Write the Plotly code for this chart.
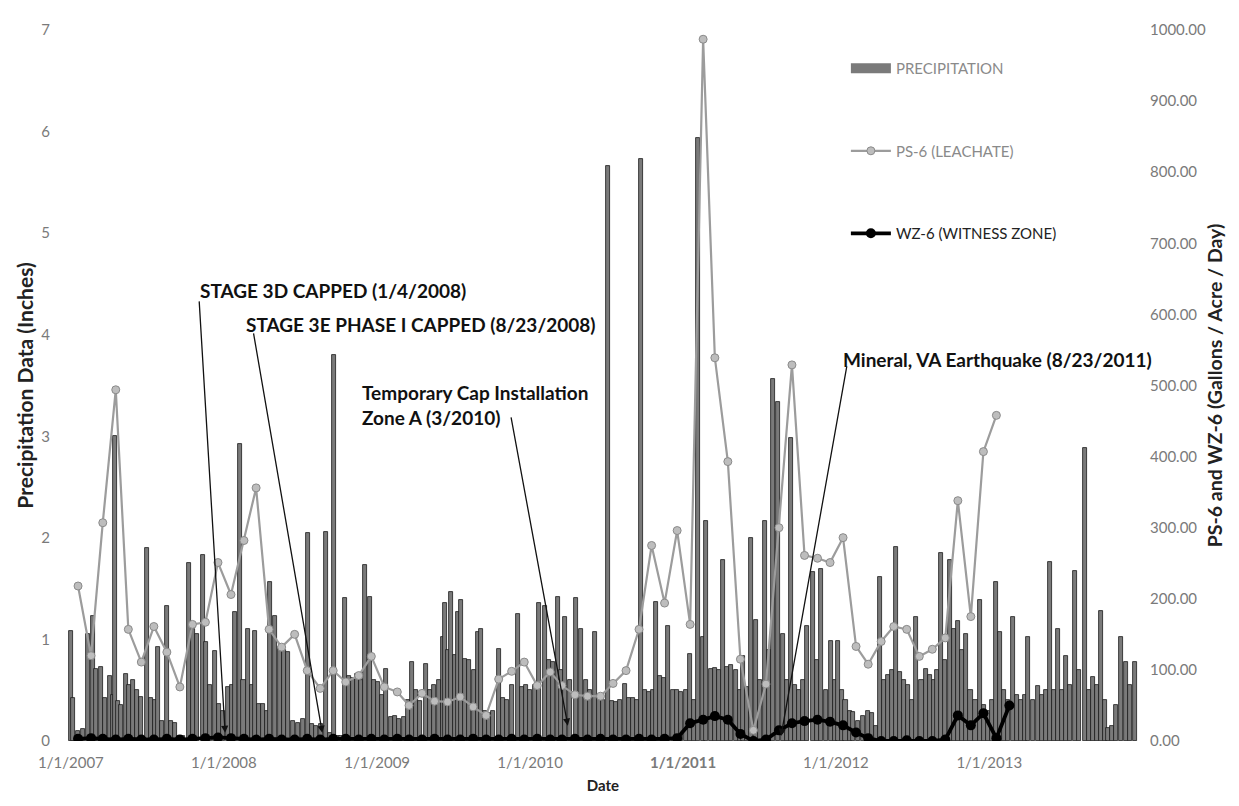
import plotly.graph_objects as go

# ---------------- data ----------------
precip_dates = [
    # 2007
    "2007-01-01","2007-01-05","2007-01-17","2007-01-29","2007-02-10","2007-02-22","2007-03-02","2007-03-14",
    "2007-03-23","2007-04-04","2007-04-11","2007-04-16","2007-04-23","2007-04-30","2007-05-12","2007-05-19",
    "2007-05-29","2007-06-07","2007-06-17","2007-07-01","2007-07-11","2007-07-20","2007-07-27","2007-08-06",
    "2007-08-18","2007-08-28","2007-09-06","2007-09-16","2007-09-25","2007-10-09","2007-10-19","2007-10-28",
    "2007-11-12","2007-11-19","2007-11-29","2007-12-10","2007-12-20","2007-12-29",
    # 2008
    "2008-01-10","2008-01-20","2008-01-27","2008-02-08","2008-02-17","2008-02-27","2008-03-09","2008-03-16",
    "2008-03-25","2008-04-04","2008-04-13","2008-04-20","2008-05-02","2008-05-14","2008-05-24","2008-06-02",
    "2008-06-14","2008-06-26","2008-07-08","2008-07-20","2008-07-30","2008-08-08","2008-08-20","2008-09-01",
    "2008-09-11","2008-09-20","2008-09-30","2008-10-07","2008-10-16","2008-10-26","2008-11-05","2008-11-14",
    "2008-11-24","2008-12-03","2008-12-15","2008-12-25",
    # 2009
    "2009-01-03","2009-01-12","2009-01-22","2009-02-03","2009-02-12","2009-02-22","2009-03-06","2009-03-16",
    "2009-03-25","2009-04-04","2009-04-13","2009-04-27","2009-05-07","2009-05-17","2009-05-29","2009-06-07",
    "2009-06-12","2009-06-19","2009-06-26","2009-07-06","2009-07-13","2009-07-20","2009-07-30","2009-08-08",
    "2009-08-20","2009-08-30","2009-09-06","2009-09-16","2009-09-25","2009-10-05","2009-10-19","2009-10-28",
    "2009-11-07","2009-11-19","2009-12-03","2009-12-13","2009-12-22",
    # 2010
    "2010-01-01","2010-01-12","2010-01-22","2010-02-05","2010-02-15","2010-02-24","2010-03-09","2010-03-16",
    "2010-03-25","2010-04-06","2010-04-20","2010-05-02","2010-05-14","2010-05-24","2010-06-05","2010-06-14",
    "2010-06-24","2010-07-06","2010-07-15","2010-07-25","2010-08-03","2010-08-15","2010-08-25","2010-09-03",
    "2010-09-13","2010-09-22","2010-10-02","2010-10-12","2010-10-21","2010-10-28","2010-11-07","2010-11-17",
    "2010-11-26","2010-12-08","2010-12-17","2010-12-27",
    # 2011
    "2011-01-08","2011-01-17","2011-01-27","2011-02-05","2011-02-17","2011-02-24","2011-03-09","2011-03-18",
    "2011-03-28","2011-04-06","2011-04-16","2011-04-25","2011-05-07","2011-05-17","2011-05-24","2011-06-02",
    "2011-06-12","2011-06-24","2011-07-03","2011-07-15","2011-07-25","2011-08-03","2011-08-15","2011-08-27",
    "2011-09-06","2011-09-16","2011-09-25","2011-10-05","2011-10-14","2011-10-23","2011-11-07","2011-11-17",
    "2011-11-26","2011-12-08","2011-12-20","2011-12-29",
    # 2012
    "2012-01-05","2012-01-15","2012-01-24","2012-02-03","2012-02-10","2012-02-22","2012-03-06","2012-03-18",
    "2012-03-28","2012-04-06","2012-04-16","2012-04-25","2012-05-05","2012-05-14","2012-05-24","2012-06-02",
    "2012-06-12","2012-06-21","2012-07-01","2012-07-11","2012-07-23","2012-08-03","2012-08-13","2012-08-22",
    "2012-08-30","2012-09-08","2012-09-18","2012-09-30","2012-10-09","2012-10-19","2012-10-28","2012-11-07",
    "2012-11-17","2012-11-29","2012-12-10","2012-12-20","2012-12-29",
    # 2013
    "2013-01-08","2013-01-17","2013-01-27","2013-02-05","2013-02-15","2013-02-27","2013-03-09","2013-03-18",
    "2013-03-28","2013-04-04","2013-04-16","2013-04-28","2013-05-07","2013-05-17","2013-05-26","2013-06-05",
    "2013-06-14","2013-06-24","2013-07-03","2013-07-13","2013-07-25","2013-08-03","2013-08-18","2013-08-27",
    "2013-09-06","2013-09-16","2013-09-25","2013-10-05","2013-10-12","2013-10-21","2013-10-31","2013-11-12",
    "2013-11-24","2013-12-03","2013-12-15",
]
precip_inches = [
    # 2007
    1.08,0.42,0.10,0.12,1.05,1.23,0.71,0.73,0.42,0.64,0.45,3.00,0.39,0.35,0.66,0.55,
    0.60,0.50,0.43,1.90,0.42,0.40,0.93,0.20,1.33,0.20,0.18,0.05,0.05,1.75,1.10,1.05,
    1.83,0.97,0.55,0.89,0.36,0.30,
    # 2008
    0.53,0.55,1.27,2.92,0.60,1.10,0.55,1.08,0.36,0.36,0.30,1.57,1.23,0.93,0.90,0.88,
    0.20,0.18,0.22,2.05,0.17,0.15,0.17,2.06,0.08,3.80,0.05,0.05,1.41,0.64,0.62,0.66,
    0.60,1.73,1.42,0.60,
    # 2009
    0.58,0.45,0.71,0.24,0.25,0.22,0.24,0.40,0.78,0.50,0.39,0.76,0.50,0.55,0.60,1.02,
    1.36,0.90,1.47,0.85,1.27,1.39,0.81,0.80,0.70,1.07,1.10,0.30,0.28,0.30,0.91,0.42,
    0.40,0.55,1.25,0.53,0.55,
    # 2010
    0.50,0.55,1.36,1.33,0.80,0.78,1.42,0.70,1.22,0.60,1.41,1.10,0.60,0.50,1.07,0.42,
    0.40,5.66,0.39,0.38,0.40,0.56,0.42,0.42,0.40,5.73,0.50,0.48,0.50,1.37,0.64,0.62,
    1.13,0.50,0.50,0.48,
    # 2011
    0.50,0.86,0.40,5.94,1.02,2.17,0.71,0.72,0.70,1.78,0.73,0.75,0.70,0.50,0.84,0.53,
    2.00,1.19,0.60,2.17,0.90,3.56,3.34,1.05,0.60,2.98,0.55,0.50,0.60,1.13,1.66,0.80,
    1.69,0.50,0.98,0.60,
    # 2012
    0.98,0.50,0.40,0.30,0.29,0.20,0.25,0.30,0.28,0.15,1.61,0.60,0.65,0.70,1.91,0.68,
    0.60,0.55,0.40,1.22,0.60,0.71,0.65,0.60,0.70,1.85,0.80,1.78,1.10,1.18,0.90,1.05,
    0.50,0.40,1.39,0.35,0.30,
    # 2013
    0.40,1.57,1.07,0.50,0.40,1.22,0.45,0.40,0.45,1.02,0.40,0.54,0.45,0.50,1.76,0.50,
    1.10,0.50,0.84,0.55,1.67,0.70,2.88,0.50,0.63,0.55,1.28,0.40,0.13,0.15,0.35,1.02,
    0.78,0.55,0.78,
]

# monthly sampling dates for PS-6 and WZ-6
sample_dates = [
    "2007-01-18","2007-02-18","2007-03-18","2007-04-18","2007-05-18","2007-06-18","2007-07-18","2007-08-18","2007-09-18","2007-10-18","2007-11-18","2007-12-18",
    "2008-01-18","2008-02-18","2008-03-18","2008-04-18","2008-05-18","2008-06-18","2008-07-18","2008-08-18","2008-09-18","2008-10-18","2008-11-18","2008-12-18",
    "2009-01-18","2009-02-18","2009-03-18","2009-04-18","2009-05-18","2009-06-18","2009-07-18","2009-08-18","2009-09-18","2009-10-18","2009-11-18","2009-12-18",
    "2010-01-18","2010-02-18","2010-03-18","2010-04-18","2010-05-18","2010-06-18","2010-07-18","2010-08-18","2010-09-18","2010-10-18","2010-11-18","2010-12-18",
    "2011-01-18","2011-02-18","2011-03-18","2011-04-18","2011-05-18","2011-06-18","2011-07-18","2011-08-18","2011-09-18","2011-10-18","2011-11-18","2011-12-18",
    "2012-01-18","2012-02-18","2012-03-18","2012-04-18","2012-05-18","2012-06-18","2012-07-18","2012-08-18","2012-09-18","2012-10-18","2012-11-18","2012-12-18",
    "2013-01-18","2013-02-18",
]
ps6_leachate = [
    218,120,307,494,157,111,161,125,76,164,167,251,
    206,282,356,157,132,150,99,74,99,83,92,119,
    76,69,50,67,56,55,62,48,36,87,98,111,
    78,97,78,65,63,63,81,99,157,275,194,296,
    164,987,539,393,115,15,80,300,529,261,257,251,
    286,133,108,140,161,157,119,129,145,338,175,407,
    458,
]
wz6_witness = [
    3,4,3,2,3,2,2,3,2,3,4,5,
    4,3,2,3,2,2,3,2,3,3,2,3,
    2,3,2,2,3,2,2,3,2,2,3,2,
    3,2,2,3,2,3,2,2,3,2,3,4,
    25,30,35,30,10,0,2,15,25,28,30,27,
    22,12,4,0,0,1,0,0,2,36,22,39,
    4,50,
]

year_ticks = ["2007-01-01","2008-01-01","2009-01-01","2010-01-01","2011-01-01","2012-01-01","2013-01-01"]
year_labels = ["1/1/2007","1/1/2008","1/1/2009","1/1/2010","<b>1/1/2011</b>","1/1/2012","1/1/2013"]

events = [
    # text, event date, left-axis value of arrow tip
    ("STAGE 3D CAPPED (1/4/2008)", "2008-01-04", 0.08),
    ("STAGE 3E PHASE I CAPPED (8/23/2008)", "2008-08-23", 0.08),
    ("Temporary Cap Installation<br>Zone A (3/2010)", "2010-04-01", 0.15),
    ("Mineral, VA Earthquake (8/23/2011)", "2011-08-23", 0.05),
]

# ---------------- figure ----------------
FONT = "Lato"
fig = go.Figure()

fig.add_trace(go.Bar(
    x=precip_dates, y=precip_inches, name="PRECIPITATION", showlegend=False,
    width=10 * 86400000, marker=dict(color="#7a7a7a", line=dict(color="#1a1a1a", width=0.8)),
    legendgroup="a", yaxis="y",
))
# legend swatch for the precipitation series (wide grey block, as in the original legend)
fig.add_trace(go.Scatter(
    x=[None], y=[None], name='<span style="color:#8a8a8a">PRECIPITATION</span>',
    mode="lines", line=dict(color="#7a7a7a", width=12), legendgroup="a", yaxis="y",
))
fig.add_trace(go.Scatter(
    x=sample_dates[:len(ps6_leachate)], y=ps6_leachate, name='<span style="color:#8a8a8a">PS-6 (LEACHATE)</span>',
    mode="lines+markers", line=dict(color="#9c9c9c", width=2.2),
    marker=dict(symbol="circle", size=8, color="#bdbdbd", line=dict(color="#8a8a8a", width=1)),
    legendgroup="b", yaxis="y2",
))
fig.add_trace(go.Scatter(
    x=sample_dates, y=wz6_witness, name='<span style="color:#222">WZ-6 (WITNESS ZONE)</span>',
    mode="lines+markers", line=dict(color="#000000", width=3.8),
    marker=dict(symbol="circle", size=10, color="#000000"),
    legendgroup="c", yaxis="y2",
))

annotations = []
label_pos = {
    # text anchor (paper) and arrow tail offset in pixels from the tip
    0: dict(tx=0.1215, ty=0.633, ax=-26, ay=-433),
    1: dict(tx=0.1645, ty=0.5855, ax=-69, ay=-401),
    2: dict(tx=0.2729, ty=0.472, ax=-57, ay=-310),
    3: dict(tx=0.7224, ty=0.537, ax=66, ay=-371),
}
for i, (txt, d, yv) in enumerate(events):
    p = label_pos[i]
    annotations.append(dict(
        text="<b>" + txt + "</b>", xref="paper", yref="paper", x=p["tx"], y=p["ty"],
        xanchor="left", yanchor="middle", align="left", showarrow=False,
        font=dict(family=FONT, size=19, color="#111"),
    ))
    annotations.append(dict(
        text="", x=d, y=yv, xref="x", yref="y", showarrow=True,
        ax=p["ax"], ay=p["ay"], arrowhead=2, arrowsize=1.1, arrowwidth=1.3,
        arrowcolor="#111", standoff=0,
    ))

TICKFONT = dict(family=FONT, size=15, color="#7a7a7a")
fig.update_layout(
    width=1239, height=806,
    margin=dict(l=60, r=109, t=14, b=73),
    paper_bgcolor="white", plot_bgcolor="white",
    font=dict(family=FONT, size=12, color="#555"),
    bargap=0,
    showlegend=True,
    legend=dict(x=0.727, y=0.969, xanchor="left", yanchor="top", tracegroupgap=60,
                traceorder="grouped", font=dict(family=FONT, size=15), itemwidth=40,
                bgcolor="rgba(0,0,0,0)"),
    xaxis=dict(type="date", range=["2006-12-25", "2013-12-22"], tickvals=year_ticks, ticktext=year_labels,
               showgrid=False, zeroline=False, showline=False, ticks="outside", ticklen=8,
               tickcolor="rgba(0,0,0,0)", tickfont=TICKFONT,
               title=dict(text="<b>Date</b>", font=dict(family=FONT, size=15, color="#222"), standoff=10)),
    yaxis=dict(range=[0, 7], dtick=1, tickformat="d", showgrid=False, zeroline=False, showline=False,
               ticks="outside", ticklen=14, tickcolor="rgba(0,0,0,0)", tickfont=TICKFONT,
               title=dict(text="<b>Precipitation Data (Inches)</b>", font=dict(family=FONT, size=21, color="#222"),
                          standoff=1)),
    yaxis2=dict(range=[0, 1000], dtick=100, tickformat=".2f", overlaying="y", side="right",
                showgrid=False, zeroline=False, showline=False, ticks="outside", ticklen=8,
                tickcolor="rgba(0,0,0,0)", tickfont=TICKFONT,
                title=dict(text="<b>PS-6 and WZ-6 (Gallons / Acre / Day)</b>",
                           font=dict(family=FONT, size=19.5, color="#222"), standoff=3)),
    annotations=annotations,
)

fig.write_html("out.html")
